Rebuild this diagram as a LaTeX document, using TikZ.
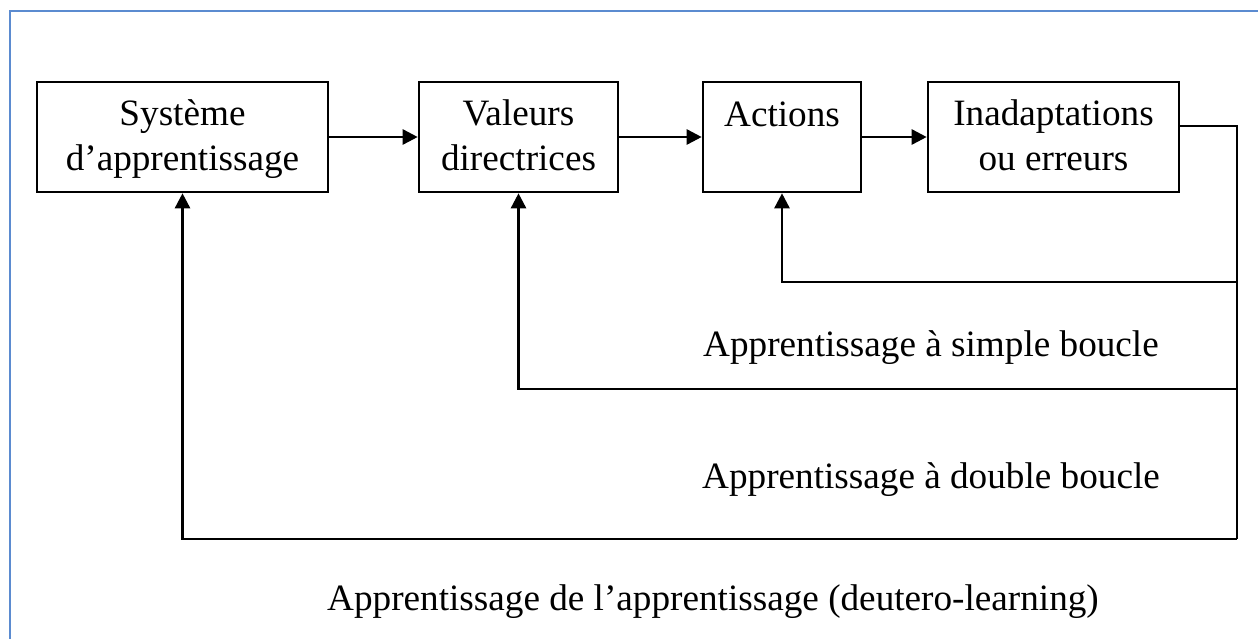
\documentclass[tikz,border=0pt]{standalone}
\usepackage{fontspec}
\setmainfont{Liberation Serif}
\usetikzlibrary{arrows.meta}
\definecolor{framecol}{RGB}{91,139,208}
\tikzset{
  stage/.style={draw=black, line width=2.6pt, minimum height=110pt, inner sep=0pt},
  txt/.style={font=\fontsize{37.2}{44}\selectfont, anchor=base, inner sep=0pt},
  looplabel/.style={font=\fontsize{37.2}{44}\selectfont, anchor=base west, inner sep=0pt},
  link/.style={draw=black, line width=2.6pt},
  arr/.style={link, -{Triangle[length=15pt,width=15pt]}}
}
\begin{document}
\begin{tikzpicture}[x=1pt,y=-1pt]
\useasboundingbox (0,0) rectangle (1258,638);
% outer frame (only top and left edges are inside the page)
\draw[framecol, line width=2pt] (10,640) -- (10,11) -- (1260,11);

% stages
\node[stage, minimum width=291pt] (b1) at (182.5,137) {};
\node[stage, minimum width=199pt] (b2) at (518.5,137) {};
\node[stage, minimum width=158pt] (b3) at (782,137) {};
\node[stage, minimum width=251pt] (b4) at (1053.5,137) {};

\node[txt] (t1a) at (182.5,125) {Système};
\node[txt] (t1b) at (182.5,170) {d’apprentissage};
\node[txt] (t2a) at (518.5,125) {Valeurs};
\node[txt] (t2b) at (518.5,170) {directrices};
\node[txt] (t3a) at (782,126) {Actions};
\node[txt] (t4a) at (1053.5,125) {Inadaptations};
\node[txt] (t4b) at (1053.5,170) {ou erreurs};

% forward chain
\draw[arr] (b1.east) -- (b2.west);
\draw[arr] (b2.east) -- (b3.west);
\draw[arr] (b3.east) -- (b4.west);

% feedback loops
\coordinate (out) at (1179,126);
\coordinate (r0) at (1237,126);
\coordinate (r1) at (1237,282);
\coordinate (r2) at (1237,389);
\coordinate (r3) at (1237,539);
\draw[link] (out) -- (r0) -- (r3);
\draw[arr] (r1) -- (b3.south |- r1) -- (b3.south);
\draw[arr] (r2) -- (b2.south |- r2) -- (b2.south);
\draw[arr] (r3) -- (b1.south |- r3) -- (b1.south);

% loop labels
\node[looplabel] (l1) at (703,356) {Apprentissage à simple boucle};
\node[looplabel] (l2) at (702,488) {Apprentissage à double boucle};
\node[looplabel] (l3) at (327,610) {Apprentissage de l’apprentissage (deutero-learning)};
\end{tikzpicture}
\end{document}
